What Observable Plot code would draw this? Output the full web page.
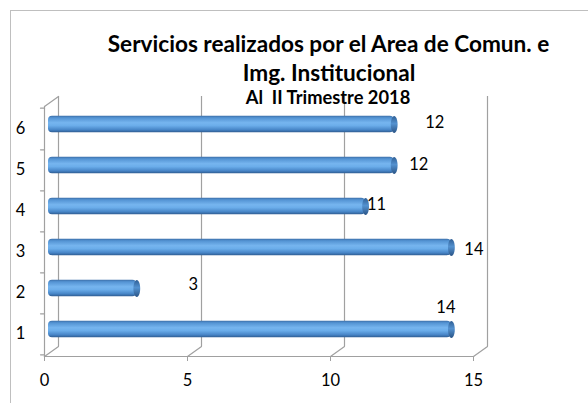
<!DOCTYPE html>
<html>
<head>
<meta charset="utf-8">
<script src="https://cdn.jsdelivr.net/npm/d3@7"></script>
<script src="https://cdn.jsdelivr.net/npm/@observablehq/plot@0.6"></script>
<style>
  html, body { margin: 0; padding: 0; background: #fff; overflow: hidden; }
  #wrap { position: relative; width: 588px; height: 403px; }
  #border { position: absolute; left: 10px; top: 10px; width: 640px; height: 440px;
            border: 1px solid #bfbfbf; box-sizing: border-box; pointer-events: none; }
</style>
</head>
<body>
<div id="wrap"><div id="border"></div></div>
<script>
// ---- data ----
const categories = ["1", "2", "3", "4", "5", "6"];
const values = [14, 3, 14, 11, 12, 12];
const xTicks = [0, 5, 10, 15];
const titleLines = ["Servicios realizados por el Area de Comun. e", "Img. Institucional"];
const subtitle = "Al  II Trimestre 2018";
// label offsets (pixels) relative to each bar end, as placed in the original
const labelDx = [-8.5, 53.5, 19.5, 8, 21.5, 37.5];
const labelDy = [-21.5, -3.5, 2.5, -2, -0.5, -1.5];

const data = categories.map((c, i) => ({cat: c, value: values[i]}));

const gray = "#a0a0a0";
const font = "Lato, 'Open Sans', sans-serif";

const line = {draw(context, l) { context.moveTo(0, 0); context.lineTo(0, -l); }};
const ellipse = {draw(context) {
  const rx = 3.4, ry = 8.5, k = 0.5523, kx = k * rx, ky = k * ry;
  context.moveTo(rx, 0);
  context.bezierCurveTo(rx, ky, kx, ry, 0, ry);
  context.bezierCurveTo(-kx, ry, -rx, ky, -rx, 0);
  context.bezierCurveTo(-rx, -ky, -kx, -ry, 0, -ry);
  context.bezierCurveTo(kx, -ry, rx, -ky, rx, 0);
  context.closePath();
}};

const depthLen = Math.hypot(14, 10);
const depthAngle = Math.atan2(14, 10) * 180 / Math.PI;
const half = (403 - 106 - 47) / 6 / 2;

const svg = Plot.plot({
  width: 588,
  height: 403,
  marginLeft: 44,
  marginRight: 115,
  marginTop: 106,
  marginBottom: 47,
  style: {fontFamily: font, fontSize: "16.5px", color: "#000", background: "transparent"},
  x: {domain: [0, 15], axis: null},
  y: {domain: categories.slice().reverse(), padding: 0, axis: null},
  marks: [
    // back wall vertical gridlines
    Plot.ruleX(xTicks, {dx: 14, dy: -10, stroke: gray, strokeWidth: 1.2}),
    // floor depth lines
    Plot.vector(xTicks, {x: d => d, frameAnchor: "bottom", length: depthLen, rotate: depthAngle,
      anchor: "start", shape: line, stroke: gray, strokeWidth: 1.2}),
    // top-left depth line
    Plot.vector([0], {x: d => d, frameAnchor: "top", length: depthLen, rotate: depthAngle,
      anchor: "start", shape: line, stroke: gray, strokeWidth: 1.2}),
    // front axes
    Plot.frame({anchor: "left", stroke: gray, strokeWidth: 1.2}),
    Plot.frame({anchor: "bottom", stroke: gray, strokeWidth: 1.2}),
    // y boundary ticks
    Plot.vector(categories, {y: d => d, frameAnchor: "left", dy: half, length: 4, rotate: -90,
      anchor: "start", shape: line, stroke: gray, strokeWidth: 1.2}),
    Plot.vector([categories[categories.length - 1]], {y: d => d, frameAnchor: "left", dy: -half, length: 4, rotate: -90,
      anchor: "start", shape: line, stroke: gray, strokeWidth: 1.2}),
    // axes labels
    Plot.axisX({ticks: xTicks, tickSize: 5, tickPadding: 13, stroke: gray, fill: "#000", label: null, fontSize: 16.5}),
    Plot.axisY({tickSize: 0, tickPadding: 24, textAnchor: "middle", fill: "#000", label: null, fontSize: 16.5}),
    // cylinder bodies
    Plot.barX(data, {x: "value", y: "cat", dx: 6.5, dy: -4.5, insetTop: half - 8.5, insetBottom: half - 8.5,
      insetLeft: -2.5, rx: 4, fill: "url(#cyl)"}),
    // cylinder end caps
    Plot.dot(data, {x: "value", y: "cat", dx: 6.5, dy: -4.5, symbol: ellipse, fill: "url(#cap)", stroke: "none"}),
    // value labels
    ...data.map((d, i) => Plot.text([d], {x: "value", y: "cat", text: d => String(d.value),
      dx: 9.5 + labelDx[i], dy: -4.5 + labelDy[i], fill: "#000", fontSize: 16.5})),
    // titles
    Plot.text([titleLines[0]], {frameAnchor: "top", dx: 69.5, dy: -55, lineAnchor: "bottom",
      fontWeight: "bold", fontSize: 22.6, fill: "#000"}),
    Plot.text([titleLines[1]], {frameAnchor: "top", dx: 70, dy: -26, lineAnchor: "bottom",
      fontWeight: "bold", fontSize: 22.6, fill: "#000"}),
    Plot.text([subtitle], {frameAnchor: "top", dx: 69, dy: -3, lineAnchor: "bottom",
      fontWeight: "bold", fontSize: 18.3, fill: "#000"})
  ]
});

const defs = d3.select(svg).insert("defs", ":first-child");
const g1 = defs.append("linearGradient").attr("id", "cyl").attr("x1", 0).attr("y1", 0).attr("x2", 0).attr("y2", 1);
[[0, "#3d70aa"], [0.12, "#5393d3"], [0.42, "#76b5ef"], [0.6, "#6badea"], [0.86, "#4684c6"], [1, "#2f5d92"]]
  .forEach(([o, c]) => g1.append("stop").attr("offset", o).attr("stop-color", c));
const g2 = defs.append("linearGradient").attr("id", "cap").attr("x1", 0).attr("y1", 0).attr("x2", 0).attr("y2", 1);
[[0, "#2f5f95"], [0.45, "#5492d0"], [1, "#2a5486"]]
  .forEach(([o, c]) => g2.append("stop").attr("offset", o).attr("stop-color", c));

svg.style.position = "absolute";
svg.style.left = "0";
svg.style.top = "0";
document.getElementById("wrap").appendChild(svg);
</script>
</body>
</html>
